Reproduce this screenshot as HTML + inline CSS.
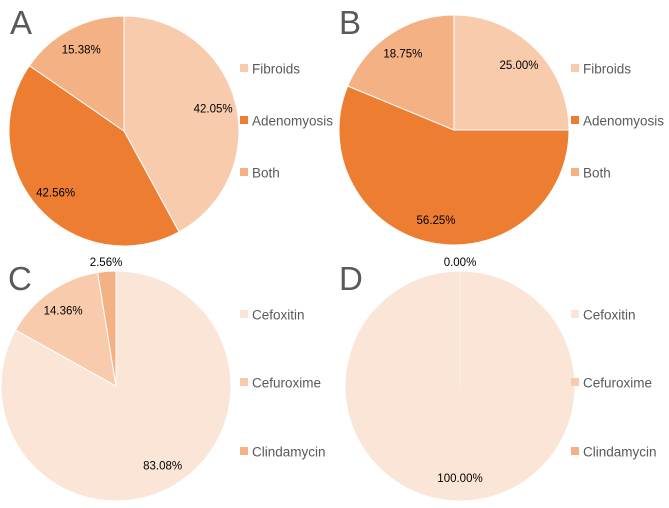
<!DOCTYPE html>
<html><head><meta charset="utf-8"><style>
body{margin:0;background:#fff}
svg{display:block}
text{font-family:"Liberation Sans",sans-serif}
</style></head><body>
<svg id="chart" width="669" height="508" viewBox="0 0 669 508"></svg>
<script>
const panelLetters = ["A","B","C","D"];
const catsTop = ["Fibroids","Adenomyosis","Both"];
const catsBottom = ["Cefoxitin","Cefuroxime","Clindamycin"];
const valuesA = [42.05, 42.56, 15.38];
const valuesB = [25.00, 56.25, 18.75];
const valuesC = [83.08, 14.36, 2.56];
const valuesD = [100.00, 0.00, 0.00];
const colorsTop = ["#F8CBAD","#ED7D31","#F4B183"];
const colorsBottom = ["#FBE5D6","#F8CBAD","#F4B183"];

const svg = document.getElementById('chart');
const NS = 'http://www.w3.org/2000/svg';
function mk(tag, attrs){const e=document.createElementNS(NS,tag);for(const k in attrs)e.setAttribute(k,attrs[k]);svg.appendChild(e);return e;}

const panels = [
 {letter:0,vals:valuesA,cats:catsTop,cols:colorsTop,cx:124,cy:131,r:115,lx:240,ly:[69,121,173]},
 {letter:1,vals:valuesB,cats:catsTop,cols:colorsTop,cx:454,cy:130,r:115,lx:571,ly:[69,121,173]},
 {letter:2,vals:valuesC,cats:catsBottom,cols:colorsBottom,cx:116,cy:386,r:115,lx:240,ly:[315,383,452]},
 {letter:3,vals:valuesD,cats:catsBottom,cols:colorsBottom,cx:460,cy:386,r:115,lx:571,ly:[315,383,452]}
];
const letterPos=[[10,34],[339,34],[8,290],[339,290]];

panels.forEach((p,pi)=>{
  const L=mk('text',{x:letterPos[pi][0],y:letterPos[pi][1],'font-size':33,fill:'#595959'});
  L.textContent=panelLetters[p.letter];
  
  
  const total=p.vals.reduce((a,b)=>a+b,0);
  let acc=0;
  p.vals.forEach((v,i)=>{
    const a0=acc/total*2*Math.PI; acc+=v; const a1=acc/total*2*Math.PI;
    const pt=a=>[p.cx+p.r*Math.sin(a),p.cy-p.r*Math.cos(a)];
    if(v>0){
      let el;
      if(v>=total-1e-9){
        el=mk('circle',{cx:p.cx,cy:p.cy,r:p.r,fill:p.cols[i],stroke:'#fff','stroke-width':1});
      }else{
        const s=pt(a0),e=pt(a1),large=(a1-a0)>Math.PI?1:0;
        el=mk('path',{d:`M${p.cx},${p.cy}L${s[0]},${s[1]}A${p.r},${p.r} 0 ${large} 1 ${e[0]},${e[1]}Z`,fill:p.cols[i],stroke:'#fff','stroke-width':1});
      }
      
      
    }
  });
  if(pi===3){ mk('line',{x1:p.cx,y1:p.cy,x2:p.cx,y2:p.cy-p.r,stroke:'#fff','stroke-width':1,'stroke-opacity':0.5}); }
  acc=0;
  let shownZero=false;
  p.vals.forEach((v,i)=>{
    const mid=(acc+v/2)/total*2*Math.PI; acc+=v;
    if(v===0){ if(shownZero) return; shownZero=true; }
    const rr = v<5 ? p.r*1.08 : p.r*0.8;
    const x=p.cx+rr*Math.sin(mid), y=p.cy-rr*Math.cos(mid);
    const t=mk('text',{x:x,y:y+4,'font-size':11.5,fill:'#000','text-anchor':'middle'});
    t.textContent=v.toFixed(2)+'%';
    
    
  });
  p.cats.forEach((c,i)=>{
    const r=mk('rect',{x:p.lx,y:p.ly[i]-5,width:8,height:8,fill:p.cols[i]});
    
    
    const t=mk('text',{x:p.lx+12,y:p.ly[i]+4.5,'font-size':13.5,fill:'#595959'});
    t.textContent=c;
    
    
  });
});
</script>
</body></html>
